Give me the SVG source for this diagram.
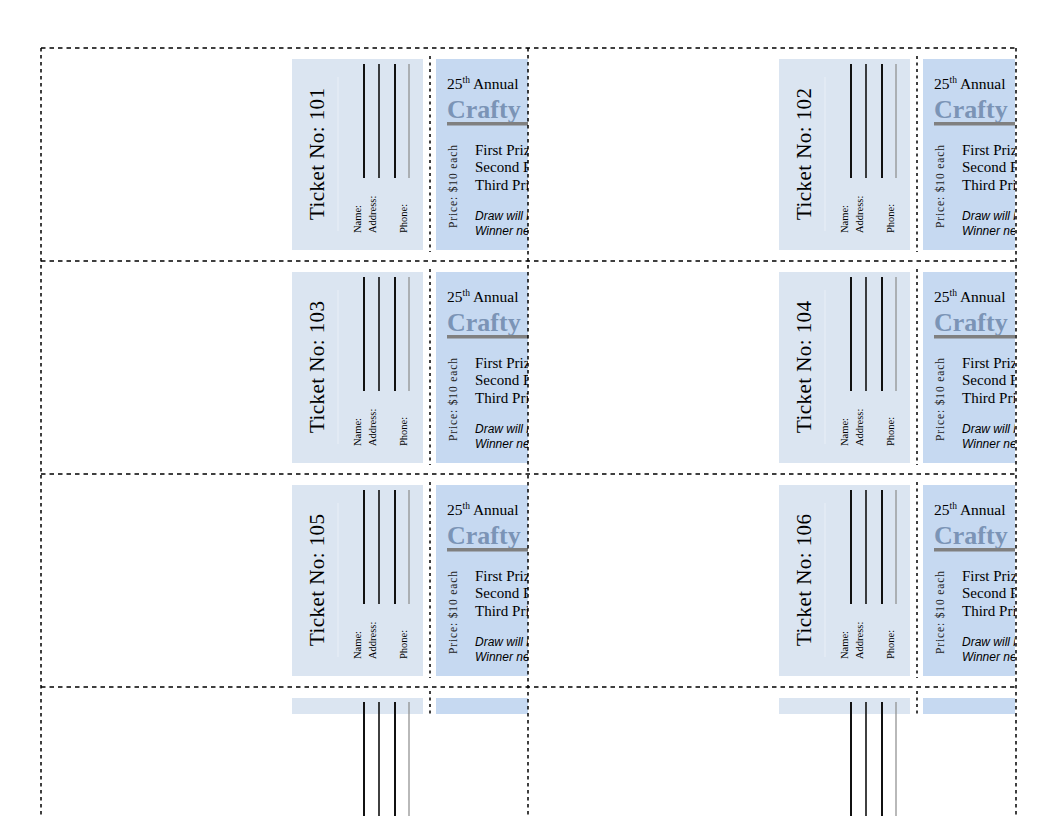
<svg xmlns="http://www.w3.org/2000/svg" width="1056" height="816" viewBox="0 0 1056 816">
<style>
.stub{fill:#dbe5f1}
.main{fill:#c6d9f1}
.faint{stroke:#e9eff7;stroke-width:1}
.l1{stroke:#111;stroke-width:2}
.l2{stroke:#111;stroke-width:1.6}
.l4{stroke:#8a8a8a;stroke-width:1.2}
.cut{stroke:#000;stroke-width:1.5;stroke-dasharray:3 3.5}
.hd{stroke:#000;stroke-width:1.5;stroke-dasharray:4.5 4;fill:none}
.vd{stroke:#000;stroke-width:1.5;stroke-dasharray:3.5 3.5;fill:none}
.tno{font-family:"Liberation Serif",serif;font-size:21px;fill:#000}
.lbl{font-family:"Liberation Serif",serif;font-size:10.5px;fill:#000}
.ann{font-family:"Liberation Serif",serif;font-size:15.5px;fill:#000}
.crafty{font-family:"Liberation Serif",serif;font-size:26px;font-weight:bold;fill:#7b94b6}
.bar{fill:#808080}
.price{font-family:"Liberation Serif",serif;font-size:11.5px;fill:#222}
.prize{font-family:"Liberation Serif",serif;font-size:15px;fill:#000}
.note{font-family:"Liberation Sans",sans-serif;font-size:12px;font-style:italic;fill:#000}
</style>
<defs>
<clipPath id="tclip" clipPathUnits="userSpaceOnUse"><rect x="-20" y="-20" width="256" height="240"/></clipPath>
</defs>
<rect width="1056" height="816" fill="#fff"/>

<g id="ticket-101" transform="translate(292,59)" clip-path="url(#tclip)">
<rect class="stub" x="0" y="0" width="131" height="191"/>
<line class="faint" x1="46" y1="18" x2="46" y2="172"/>
<line class="l1" x1="72" y1="5" x2="72" y2="119"/>
<line class="l2" x1="87" y1="5" x2="87" y2="119"/>
<line class="l1" x1="103" y1="5" x2="103" y2="119"/>
<line class="l4" x1="117" y1="5" x2="117" y2="119"/>
<text class="tno" transform="translate(32,95) rotate(-90)" text-anchor="middle" textLength="132" lengthAdjust="spacing">Ticket No: 101</text>
<text class="lbl" transform="translate(69,174) rotate(-90)">Name:</text>
<text class="lbl" transform="translate(84,174) rotate(-90)">Address:</text>
<text class="lbl" transform="translate(115,174) rotate(-90)">Phone:</text>
<line class="cut" x1="138" y1="-3" x2="138" y2="193"/>
<rect class="main" x="144" y="0" width="92" height="191"/>
<text class="ann" x="155" y="30">25<tspan font-size="9.5" dy="-6">th</tspan><tspan dy="6"> Annual</tspan></text>
<text class="crafty" x="155" y="59">Crafty</text>
<rect class="bar" x="155" y="63" width="81" height="3.5"/>
<text class="price" transform="translate(165,169) rotate(-90)" textLength="83" lengthAdjust="spacing">Price: $10 each</text>
<text class="prize" x="183" y="96">First Prize</text>
<text class="prize" x="183" y="113">Second Prize</text>
<text class="prize" x="183" y="131">Third Prize</text>
<text class="note" x="183" y="161">Draw will be</text>
<text class="note" x="183" y="176">Winner needs</text>
</g>

<g id="ticket-102" transform="translate(779,59)" clip-path="url(#tclip)">
<rect class="stub" x="0" y="0" width="131" height="191"/>
<line class="faint" x1="46" y1="18" x2="46" y2="172"/>
<line class="l1" x1="72" y1="5" x2="72" y2="119"/>
<line class="l2" x1="87" y1="5" x2="87" y2="119"/>
<line class="l1" x1="103" y1="5" x2="103" y2="119"/>
<line class="l4" x1="117" y1="5" x2="117" y2="119"/>
<text class="tno" transform="translate(32,95) rotate(-90)" text-anchor="middle" textLength="132" lengthAdjust="spacing">Ticket No: 102</text>
<text class="lbl" transform="translate(69,174) rotate(-90)">Name:</text>
<text class="lbl" transform="translate(84,174) rotate(-90)">Address:</text>
<text class="lbl" transform="translate(115,174) rotate(-90)">Phone:</text>
<line class="cut" x1="138" y1="-3" x2="138" y2="193"/>
<rect class="main" x="144" y="0" width="92" height="191"/>
<text class="ann" x="155" y="30">25<tspan font-size="9.5" dy="-6">th</tspan><tspan dy="6"> Annual</tspan></text>
<text class="crafty" x="155" y="59">Crafty</text>
<rect class="bar" x="155" y="63" width="81" height="3.5"/>
<text class="price" transform="translate(165,169) rotate(-90)" textLength="83" lengthAdjust="spacing">Price: $10 each</text>
<text class="prize" x="183" y="96">First Prize</text>
<text class="prize" x="183" y="113">Second Prize</text>
<text class="prize" x="183" y="131">Third Prize</text>
<text class="note" x="183" y="161">Draw will be</text>
<text class="note" x="183" y="176">Winner needs</text>
</g>

<g id="ticket-103" transform="translate(292,272)" clip-path="url(#tclip)">
<rect class="stub" x="0" y="0" width="131" height="191"/>
<line class="faint" x1="46" y1="18" x2="46" y2="172"/>
<line class="l1" x1="72" y1="5" x2="72" y2="119"/>
<line class="l2" x1="87" y1="5" x2="87" y2="119"/>
<line class="l1" x1="103" y1="5" x2="103" y2="119"/>
<line class="l4" x1="117" y1="5" x2="117" y2="119"/>
<text class="tno" transform="translate(32,95) rotate(-90)" text-anchor="middle" textLength="132" lengthAdjust="spacing">Ticket No: 103</text>
<text class="lbl" transform="translate(69,174) rotate(-90)">Name:</text>
<text class="lbl" transform="translate(84,174) rotate(-90)">Address:</text>
<text class="lbl" transform="translate(115,174) rotate(-90)">Phone:</text>
<line class="cut" x1="138" y1="-3" x2="138" y2="193"/>
<rect class="main" x="144" y="0" width="92" height="191"/>
<text class="ann" x="155" y="30">25<tspan font-size="9.5" dy="-6">th</tspan><tspan dy="6"> Annual</tspan></text>
<text class="crafty" x="155" y="59">Crafty</text>
<rect class="bar" x="155" y="63" width="81" height="3.5"/>
<text class="price" transform="translate(165,169) rotate(-90)" textLength="83" lengthAdjust="spacing">Price: $10 each</text>
<text class="prize" x="183" y="96">First Prize</text>
<text class="prize" x="183" y="113">Second Prize</text>
<text class="prize" x="183" y="131">Third Prize</text>
<text class="note" x="183" y="161">Draw will be</text>
<text class="note" x="183" y="176">Winner needs</text>
</g>

<g id="ticket-104" transform="translate(779,272)" clip-path="url(#tclip)">
<rect class="stub" x="0" y="0" width="131" height="191"/>
<line class="faint" x1="46" y1="18" x2="46" y2="172"/>
<line class="l1" x1="72" y1="5" x2="72" y2="119"/>
<line class="l2" x1="87" y1="5" x2="87" y2="119"/>
<line class="l1" x1="103" y1="5" x2="103" y2="119"/>
<line class="l4" x1="117" y1="5" x2="117" y2="119"/>
<text class="tno" transform="translate(32,95) rotate(-90)" text-anchor="middle" textLength="132" lengthAdjust="spacing">Ticket No: 104</text>
<text class="lbl" transform="translate(69,174) rotate(-90)">Name:</text>
<text class="lbl" transform="translate(84,174) rotate(-90)">Address:</text>
<text class="lbl" transform="translate(115,174) rotate(-90)">Phone:</text>
<line class="cut" x1="138" y1="-3" x2="138" y2="193"/>
<rect class="main" x="144" y="0" width="92" height="191"/>
<text class="ann" x="155" y="30">25<tspan font-size="9.5" dy="-6">th</tspan><tspan dy="6"> Annual</tspan></text>
<text class="crafty" x="155" y="59">Crafty</text>
<rect class="bar" x="155" y="63" width="81" height="3.5"/>
<text class="price" transform="translate(165,169) rotate(-90)" textLength="83" lengthAdjust="spacing">Price: $10 each</text>
<text class="prize" x="183" y="96">First Prize</text>
<text class="prize" x="183" y="113">Second Prize</text>
<text class="prize" x="183" y="131">Third Prize</text>
<text class="note" x="183" y="161">Draw will be</text>
<text class="note" x="183" y="176">Winner needs</text>
</g>

<g id="ticket-105" transform="translate(292,485)" clip-path="url(#tclip)">
<rect class="stub" x="0" y="0" width="131" height="191"/>
<line class="faint" x1="46" y1="18" x2="46" y2="172"/>
<line class="l1" x1="72" y1="5" x2="72" y2="119"/>
<line class="l2" x1="87" y1="5" x2="87" y2="119"/>
<line class="l1" x1="103" y1="5" x2="103" y2="119"/>
<line class="l4" x1="117" y1="5" x2="117" y2="119"/>
<text class="tno" transform="translate(32,95) rotate(-90)" text-anchor="middle" textLength="132" lengthAdjust="spacing">Ticket No: 105</text>
<text class="lbl" transform="translate(69,174) rotate(-90)">Name:</text>
<text class="lbl" transform="translate(84,174) rotate(-90)">Address:</text>
<text class="lbl" transform="translate(115,174) rotate(-90)">Phone:</text>
<line class="cut" x1="138" y1="-3" x2="138" y2="193"/>
<rect class="main" x="144" y="0" width="92" height="191"/>
<text class="ann" x="155" y="30">25<tspan font-size="9.5" dy="-6">th</tspan><tspan dy="6"> Annual</tspan></text>
<text class="crafty" x="155" y="59">Crafty</text>
<rect class="bar" x="155" y="63" width="81" height="3.5"/>
<text class="price" transform="translate(165,169) rotate(-90)" textLength="83" lengthAdjust="spacing">Price: $10 each</text>
<text class="prize" x="183" y="96">First Prize</text>
<text class="prize" x="183" y="113">Second Prize</text>
<text class="prize" x="183" y="131">Third Prize</text>
<text class="note" x="183" y="161">Draw will be</text>
<text class="note" x="183" y="176">Winner needs</text>
</g>

<g id="ticket-106" transform="translate(779,485)" clip-path="url(#tclip)">
<rect class="stub" x="0" y="0" width="131" height="191"/>
<line class="faint" x1="46" y1="18" x2="46" y2="172"/>
<line class="l1" x1="72" y1="5" x2="72" y2="119"/>
<line class="l2" x1="87" y1="5" x2="87" y2="119"/>
<line class="l1" x1="103" y1="5" x2="103" y2="119"/>
<line class="l4" x1="117" y1="5" x2="117" y2="119"/>
<text class="tno" transform="translate(32,95) rotate(-90)" text-anchor="middle" textLength="132" lengthAdjust="spacing">Ticket No: 106</text>
<text class="lbl" transform="translate(69,174) rotate(-90)">Name:</text>
<text class="lbl" transform="translate(84,174) rotate(-90)">Address:</text>
<text class="lbl" transform="translate(115,174) rotate(-90)">Phone:</text>
<line class="cut" x1="138" y1="-3" x2="138" y2="193"/>
<rect class="main" x="144" y="0" width="92" height="191"/>
<text class="ann" x="155" y="30">25<tspan font-size="9.5" dy="-6">th</tspan><tspan dy="6"> Annual</tspan></text>
<text class="crafty" x="155" y="59">Crafty</text>
<rect class="bar" x="155" y="63" width="81" height="3.5"/>
<text class="price" transform="translate(165,169) rotate(-90)" textLength="83" lengthAdjust="spacing">Price: $10 each</text>
<text class="prize" x="183" y="96">First Prize</text>
<text class="prize" x="183" y="113">Second Prize</text>
<text class="prize" x="183" y="131">Third Prize</text>
<text class="note" x="183" y="161">Draw will be</text>
<text class="note" x="183" y="176">Winner needs</text>
</g>

<g id="ticket-row4-left" transform="translate(292,698)">
<rect class="stub" x="0" y="0" width="131" height="16"/>
<line class="l1" x1="72" y1="4" x2="72" y2="120"/>
<line class="l2" x1="87" y1="4" x2="87" y2="120"/>
<line class="l1" x1="103" y1="4" x2="103" y2="120"/>
<line class="l4" x1="117" y1="4" x2="117" y2="120"/>
<line class="cut" x1="138" y1="-7" x2="138" y2="18"/>
<rect class="main" x="144" y="0" width="92" height="16"/>
</g>

<g id="ticket-row4-right" transform="translate(779,698)">
<rect class="stub" x="0" y="0" width="131" height="16"/>
<line class="l1" x1="72" y1="4" x2="72" y2="120"/>
<line class="l2" x1="87" y1="4" x2="87" y2="120"/>
<line class="l1" x1="103" y1="4" x2="103" y2="120"/>
<line class="l4" x1="117" y1="4" x2="117" y2="120"/>
<line class="cut" x1="138" y1="-7" x2="138" y2="18"/>
<rect class="main" x="144" y="0" width="92" height="16"/>
</g>

<g id="cut-lines">
<line class="hd" x1="41" y1="48" x2="1016" y2="48"/>
<line class="hd" x1="41" y1="261" x2="1016" y2="261"/>
<line class="hd" x1="41" y1="474" x2="1016" y2="474"/>
<line class="hd" x1="41" y1="687" x2="1016" y2="687"/>
<line class="vd" x1="41" y1="48" x2="41" y2="816"/>
<line class="vd" x1="528" y1="48" x2="528" y2="816"/>
<line class="vd" x1="1016" y1="48" x2="1016" y2="816"/>
</g>
</svg>
